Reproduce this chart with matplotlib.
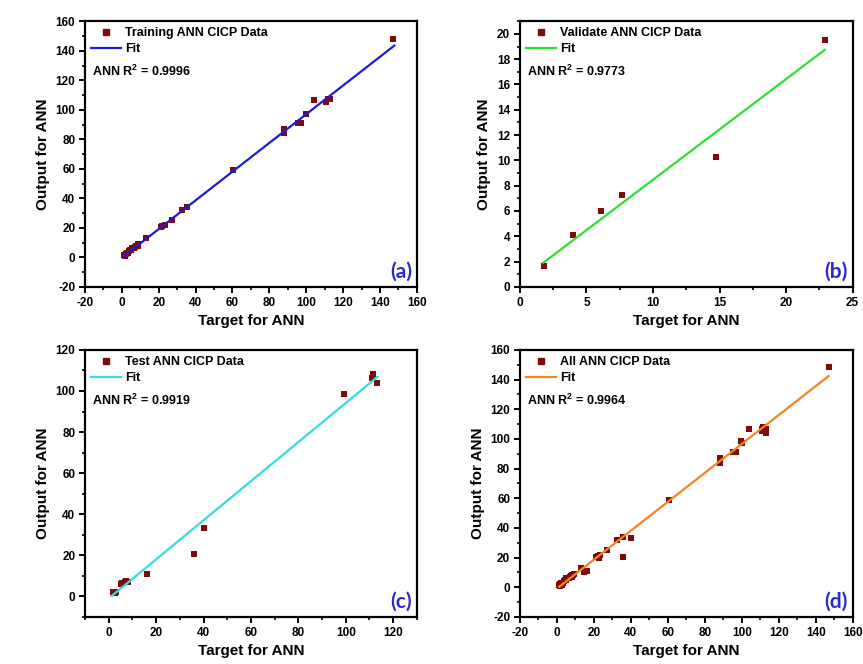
import numpy as np
import matplotlib
matplotlib.use("Agg")
import matplotlib.pyplot as plt
from matplotlib.lines import Line2D
from matplotlib.ticker import MultipleLocator, AutoMinorLocator

plt.rcParams['font.family'] = ['Liberation Sans', 'DejaVu Sans']
plt.rcParams['font.weight'] = 'bold'
plt.rcParams['axes.unicode_minus'] = False
plt.rcParams['mathtext.fontset'] = 'custom'
plt.rcParams['mathtext.rm'] = 'Liberation Sans:bold'
plt.rcParams['mathtext.bf'] = 'Liberation Sans:bold'

# ---------------- data ----------------
train_x = [147.3, 104.0, 111.0, 112.0, 113.0, 100.0, 95.5, 97.0, 88.0, 88.0, 60.5,
           35.5, 32.5, 27.0, 23.5, 22.0, 21.0, 13.0,
           1.0, 1.5, 2.0, 2.5, 3.0, 3.5, 4.0, 4.5, 5.0, 5.5, 6.0, 6.5, 7.0, 7.5, 8.0, 8.5, 9.0, 1.8, 2.2]
train_y = [148.3, 106.5, 105.5, 107.5, 107.0, 97.0, 91.0, 91.0, 87.0, 84.0, 59.0,
           34.0, 32.0, 25.0, 22.0, 21.0, 20.5, 13.0,
           1.5, 1.0, 2.0, 2.5, 3.0, 3.0, 4.0, 5.0, 5.0, 6.0, 6.5, 6.0, 7.0, 7.5, 8.0, 8.0, 9.0, 1.7, 2.5]
train_fit_x = [0.8, 147.8]
train_fit_y = [0.5, 143.5]

val_x = [1.8, 3.98, 6.1, 7.67, 14.7, 22.9]
val_y = [1.66, 4.08, 6.0, 7.24, 10.3, 19.55]
val_fit_x = [1.75, 22.9]
val_fit_y = [1.9, 18.74]

test_x = [111.6, 111.0, 113.1, 99.4, 40.1, 35.8, 16.3, 1.8, 2.5, 3.0, 5.0, 5.5, 6.0, 7.0, 7.4, 8.0]
test_y = [108.2, 106.5, 103.8, 98.6, 33.2, 20.6, 10.7, 1.9, 1.5, 2.0, 6.0, 6.5, 6.5, 7.0, 7.3, 7.0]
test_fit_x = [1.3, 113.5]
test_fit_y = [0.2, 107.0]

all_x = train_x + val_x + test_x
all_y = train_y + val_y + test_y
all_fit_x = [1.2, 147.0]
all_fit_y = [0.25, 142.4]

panels = [
    dict(x=train_x, y=train_y, fx=train_fit_x, fy=train_fit_y, color='#1c1cd8',
         label='Training ANN CICP Data', r2='0.9996', tag='(a)',
         xlim=(-20, 160), ylim=(-20, 160), xmaj=20, ymaj=20,
         pos=[0.0985, 0.568, 0.3845, 0.400]),
    dict(x=val_x, y=val_y, fx=val_fit_x, fy=val_fit_y, color='#2ee02e',
         label='Validate ANN CICP Data', r2='0.9773', tag='(b)',
         xlim=(0, 25), ylim=(0, 21), xmaj=5, ymaj=2,
         pos=[0.6025, 0.568, 0.3855, 0.400]),
    dict(x=test_x, y=test_y, fx=test_fit_x, fy=test_fit_y, color='#33dede',
         label='Test ANN CICP Data', r2='0.9919', tag='(c)',
         xlim=(-10, 130), ylim=(-10, 120), xmaj=20, ymaj=20,
         pos=[0.0985, 0.071, 0.3845, 0.402]),
    dict(x=all_x, y=all_y, fx=all_fit_x, fy=all_fit_y, color='#f5841f',
         label='All ANN CICP Data', r2='0.9964', tag='(d)',
         xlim=(-20, 160), ylim=(-20, 160), xmaj=20, ymaj=20,
         pos=[0.6025, 0.071, 0.3855, 0.402]),
]

marker_color = '#7f0a0a'

fig = plt.figure(figsize=(8.63, 6.64), dpi=100)
fig.patch.set_facecolor('white')

for p in panels:
    ax = fig.add_axes(p['pos'])
    ax.plot(p['fx'], p['fy'], color=p['color'], lw=1.6, zorder=3)
    ax.scatter(p['x'], p['y'], marker='s', s=24, color=marker_color, zorder=2, linewidths=0)
    ax.set_xlim(*p['xlim'])
    ax.set_ylim(*p['ylim'])
    ax.xaxis.set_major_locator(MultipleLocator(p['xmaj']))
    ax.yaxis.set_major_locator(MultipleLocator(p['ymaj']))
    ax.xaxis.set_minor_locator(AutoMinorLocator(2))
    ax.yaxis.set_minor_locator(AutoMinorLocator(2))
    ax.tick_params(which='major', direction='out', length=4, width=1.4, labelsize=8.5, pad=3)
    ax.tick_params(which='minor', direction='out', length=2.5, width=1.2)
    for lab in ax.get_xticklabels() + ax.get_yticklabels():
        lab.set_fontweight('bold')
    for s in ax.spines.values():
        s.set_linewidth(1.6)
    ax.set_xlabel('Target for ANN', fontsize=11, fontweight='bold', labelpad=4)
    ax.set_ylabel('Output for ANN', fontsize=11, fontweight='bold', labelpad=4)

    handles = [Line2D([], [], marker='s', ls='none', color=marker_color, markersize=4.8),
               Line2D([], [], color=p['color'], lw=1.6)]
    ax.legend(handles, [p['label'], 'Fit'], loc='upper left', frameon=False,
              prop=dict(size=9, weight='bold'), handlelength=2.4, handletextpad=0.3,
              borderaxespad=0.25, borderpad=0.25, labelspacing=0.3)
    ax.text(0.02, 0.812, r'ANN R$^{\mathbf{2}}$ = ' + p['r2'], transform=ax.transAxes,
            fontsize=9, fontweight='bold', va='center', ha='left')
    ax.text(0.985, 0.02, p['tag'], transform=ax.transAxes, fontsize=15,
            fontweight='bold', color='#2a2ad0', ha='right', va='bottom',
            family=['Lato', 'DejaVu Sans'])

fig.savefig('out.png', dpi=100, facecolor='white')
